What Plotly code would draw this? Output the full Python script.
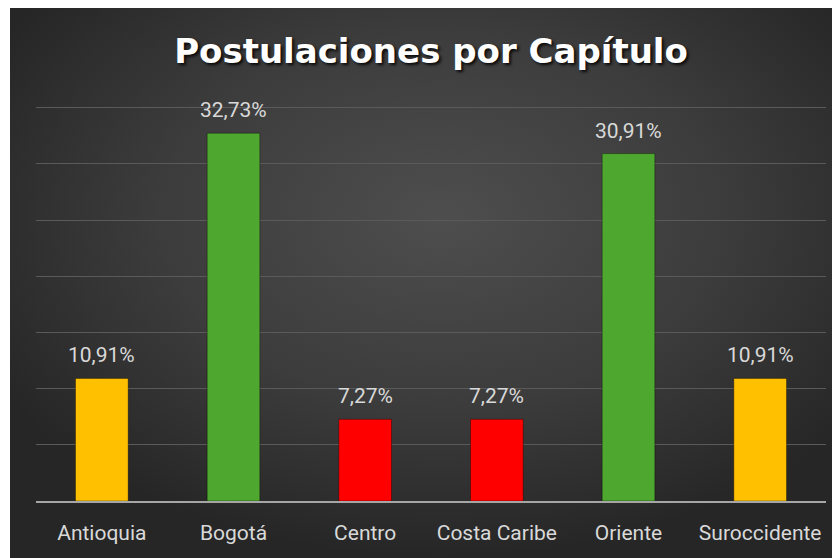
import base64
import plotly.graph_objects as go

categories = ["Antioquia", "Bogotá", "Centro", "Costa Caribe", "Oriente", "Suroccidente"]
values = [10.91, 32.73, 7.27, 7.27, 30.91, 10.91]
labels = ["10,91%", "32,73%", "7,27%", "7,27%", "30,91%", "10,91%"]
bar_colors = ["#FFC000", "#4EA72E", "#FF0000", "#FF0000", "#4EA72E", "#FFC000"]
title_text = "Postulaciones por Capítulo"

# page body has an 8px margin, so the figure is sized to fit the window
W, H = 832, 550
L, R, T, B = 28, 14, 94, 57
pw, ph = W - L - R, H - T - B

svg = (
    '<svg xmlns="http://www.w3.org/2000/svg" width="830" height="550" viewBox="0 0 830 550" preserveAspectRatio="none">'
    '<defs><radialGradient id="g" cx="0.52" cy="0.38" r="0.62" fx="0.52" fy="0.38">'
    '<stop offset="0" stop-color="#4e4e4e"/>'
    '<stop offset="0.55" stop-color="#3c3c3c"/>'
    '<stop offset="1" stop-color="#262626"/>'
    '</radialGradient></defs>'
    '<rect x="0" y="0" width="830" height="550" fill="url(#g)"/></svg>'
)
src = "data:image/svg+xml;base64," + base64.b64encode(svg.encode()).decode()

fig = go.Figure()
fig.add_trace(go.Bar(
    x=categories, y=values,
    marker=dict(color=bar_colors, line=dict(color="rgba(0,0,0,0.35)", width=1)),
    hoverinfo="skip",
))

for c, v, t in zip(categories, values, labels):
    fig.add_annotation(x=c, y=v, text=t, showarrow=False, yanchor="bottom", yshift=9,
                       font=dict(family="Roboto", size=21, color="#d9d9d9"))

fig.add_layout_image(dict(
    source=src, xref="paper", yref="paper",
    x=(2 - L) / pw, y=(H - B) / ph,
    sizex=(W - 2) / pw, sizey=H / ph,
    xanchor="left", yanchor="top", sizing="stretch", layer="below",
))

fig.update_layout(
    width=W, height=H,
    margin=dict(l=L, r=R, t=T, b=B),
    paper_bgcolor="white",
    plot_bgcolor="rgba(0,0,0,0)",
    showlegend=False,
    bargap=0.6,
    title=dict(text="<b>" + title_text + "</b>", x=0.5, xref="paper", xanchor="center",
               y=1 - 43 / H, yref="container", yanchor="middle",
               font=dict(family="DejaVu Sans", size=34, color="white",
                         shadow="2px 2px 3px rgba(0,0,0,0.85)")),
    xaxis=dict(showgrid=False, showline=True, linecolor="#a6a6a6", linewidth=2,
               ticks="", ticklabelstandoff=12,
               tickfont=dict(family="Roboto", size=21, color="#d9d9d9")),
    yaxis=dict(range=[0, 35.5], tick0=0, dtick=5, showgrid=True, gridcolor="#5a5a5a", gridwidth=1,
               showticklabels=False, zeroline=False, showline=False, ticks=""),
)

fig.write_html("out.html")
